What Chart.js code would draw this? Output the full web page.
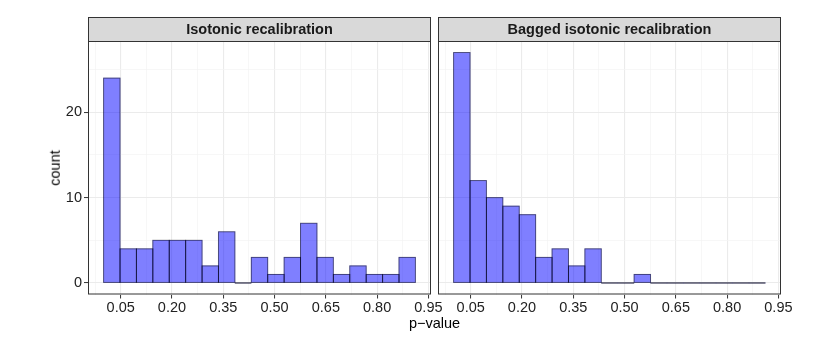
<!DOCTYPE html>
<html>
<head>
<meta charset="utf-8">
<script src="https://cdn.jsdelivr.net/npm/chart.js@4.4.1/dist/chart.umd.min.js"></script>
<style>
  html, body { margin: 0; padding: 0; background: #ffffff; }
  body { width: 830px; height: 350px; position: relative; overflow: hidden;
         font-family: "Liberation Sans", Arial, Helvetica, sans-serif; }
  .wrap { position: absolute; top: 0; height: 350px; }
  #w1 { left: 0; width: 460px; }
  #w2 { left: 420px; width: 410px; }
  .ttl { position: absolute; font-size: 14.5px; line-height: 14.5px; color: #000; white-space: nowrap; }
  #xt { left: 434.5px; top: 316.3px; transform: translateX(-50%); }
  #yt { left: 54.5px; top: 168px; transform: translate(-50%, -50%) rotate(-90deg); }
</style>
</head>
<body>
<div id="w1" class="wrap"><canvas id="c1"></canvas></div>
<div id="w2" class="wrap"><canvas id="c2"></canvas></div>
<div id="xt" class="ttl"></div>
<div id="yt" class="ttl"></div>
<script>
// ---------------- data ----------------
const binCenters = [0.024, 0.072, 0.120, 0.168, 0.216, 0.264, 0.312, 0.360, 0.408, 0.456,
                    0.504, 0.552, 0.600, 0.648, 0.696, 0.744, 0.792, 0.840, 0.888];
const countsIsotonic = [24, 4, 4, 5, 5, 5, 2, 6, 0, 3, 1, 3, 7, 3, 1, 2, 1, 1, 3];
const countsBagged   = [27, 12, 10, 9, 8, 3, 4, 2, 4, 0, 0, 1, 0, 0, 0, 0, 0, 0, 0];
const panelTitles = ['Isotonic recalibration', 'Bagged isotonic recalibration'];
const xTickValues = [0.05, 0.20, 0.35, 0.50, 0.65, 0.80, 0.95];
const xTickLabels = ['0.05', '0.20', '0.35', '0.50', '0.65', '0.80', '0.95'];
const yTickValues = [0, 10, 20];
const yTickLabels = ['0', '10', '20'];
const xTitle = 'p\u2212value';
const yTitle = 'count';

document.getElementById('xt').textContent = xTitle;
document.getElementById('yt').textContent = yTitle;

// ---------------- styling ----------------
const FONT = '"Liberation Sans", Arial, Helvetica, sans-serif';
Chart.defaults.font.family = FONT;
Chart.defaults.font.size = 14.5;
Chart.defaults.color = '#222222';

const X_MIN = -0.0456, X_MAX = 0.9576;
const Y_MIN = -1.35, Y_MAX = 28.35;
const xMinor = xTickValues.map(v => +(v - 0.075).toFixed(4));
const yMinor = yTickValues.map(v => v + 5);
const near = (a, b) => Math.abs(a - b) < 1e-6;
const xMajorIdx = v => xTickValues.findIndex(t => near(t, v));
const yMajorIdx = v => yTickValues.findIndex(t => near(t, v));

const stripPlugin = {
  id: 'strip',
  afterDraw(chart) {
    const ctx = chart.ctx, a = chart.chartArea;
    const title = chart.options.plugins.strip.text;
    ctx.save();
    // strip
    ctx.fillStyle = '#D9D9D9';
    ctx.fillRect(a.left, 17, a.right - a.left, a.top - 17);
    ctx.strokeStyle = '#333333';
    ctx.lineWidth = 1;
    ctx.strokeRect(a.left + 0.5, 17.5, a.right - a.left - 1, a.top - 17);
    ctx.fillStyle = '#1A1A1A';
    ctx.font = 'bold 14.5px ' + FONT;
    ctx.textAlign = 'center';
    ctx.textBaseline = 'middle';
    ctx.fillText(title, (a.left + a.right) / 2, (17 + a.top) / 2 + 0.5);
    // panel border
    ctx.strokeRect(a.left + 0.5, a.top + 0.5, a.right - a.left - 1, a.bottom - a.top - 1);
    ctx.restore();
  }
};

const outlinePlugin = {
  id: 'outline',
  afterDatasetsDraw(chart) {
    const ctx = chart.ctx;
    const meta = chart.getDatasetMeta(0);
    ctx.save();
    ctx.strokeStyle = 'rgba(0,0,0,0.5)';
    ctx.lineWidth = 1;
    meta.data.forEach(el => {
      const p = el.getProps(['x', 'y', 'base', 'width'], true);
      ctx.strokeRect(p.x - p.width / 2, Math.min(p.y, p.base), p.width, Math.abs(p.base - p.y));
    });
    ctx.restore();
  }
};

function makeChart(id, title, counts, showY, padLeft, padRight) {
  return new Chart(document.getElementById(id), {
    type: 'bar',
    data: {
      datasets: [{
        data: binCenters.map((x, i) => ({ x: x, y: counts[i] })),
        backgroundColor: 'rgba(0,0,255,0.5)',
        borderWidth: 0,
        barPercentage: 1,
        categoryPercentage: 1
      }]
    },
    options: {
      responsive: true,
      maintainAspectRatio: false,
      animation: false,
      devicePixelRatio: 1,
      layout: { padding: { left: padLeft, right: padRight, top: 41, bottom: 25.5 } },
      plugins: {
        legend: { display: false },
        tooltip: { enabled: false },
        strip: { text: title }
      },
      scales: {
        x: {
          type: 'linear',
          min: X_MIN, max: X_MAX,
          offset: false,
          afterBuildTicks: s => {
            s.ticks = xMinor.concat(xTickValues).sort((a, b) => a - b).map(v => ({ value: v }));
          },
          afterFit: s => { s.height = 30; },
          ticks: {
            autoSkip: false, maxRotation: 0, minRotation: 0, padding: 1,
            color: '#222222',
            callback: v => { const i = xMajorIdx(v); return i >= 0 ? xTickLabels[i] : ''; }
          },
          border: { display: false },
          grid: {
            offset: false,
            drawTicks: true,
            tickLength: 4,
            color: c => (c.tick && xMajorIdx(c.tick.value) >= 0) ? '#EBEBEB' : '#F4F4F4',
            lineWidth: c => (c.tick && xMajorIdx(c.tick.value) >= 0) ? 1.1 : 0.7,
            tickColor: c => (c.tick && xMajorIdx(c.tick.value) >= 0) ? '#333333' : 'rgba(0,0,0,0)',
            tickWidth: 1
          }
        },
        y: {
          type: 'linear',
          min: Y_MIN, max: Y_MAX,
          afterBuildTicks: s => {
            s.ticks = yMinor.concat(yTickValues).sort((a, b) => a - b).map(v => ({ value: v }));
          },
          afterFit: s => { s.width = showY ? 88 : 0; },
          ticks: {
            display: showY,
            autoSkip: false, padding: 2,
            color: '#222222',
            callback: v => { const i = yMajorIdx(v); return i >= 0 ? yTickLabels[i] : ''; }
          },
          border: { display: false },
          grid: {
            drawTicks: showY,
            tickLength: 4,
            color: c => (c.tick && yMajorIdx(c.tick.value) >= 0) ? '#EBEBEB' : '#F4F4F4',
            lineWidth: c => (c.tick && yMajorIdx(c.tick.value) >= 0) ? 1.1 : 0.7,
            tickColor: c => (c.tick && yMajorIdx(c.tick.value) >= 0) ? '#333333' : 'rgba(0,0,0,0)',
            tickWidth: 1
          }
        }
      }
    },
    plugins: [outlinePlugin, stripPlugin]
  });
}

makeChart('c1', panelTitles[0], countsIsotonic, true, 0, 29);
makeChart('c2', panelTitles[1], countsBagged, false, 18, 49);
</script>
</body>
</html>
